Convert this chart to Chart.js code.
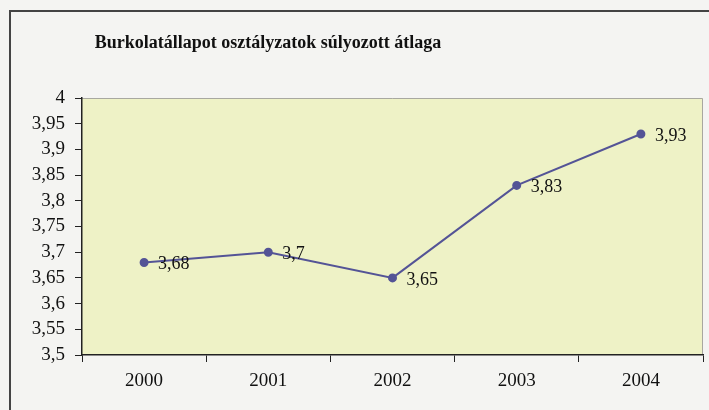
<!DOCTYPE html>
<html>
<head>
<meta charset="utf-8">
<script src="https://cdn.jsdelivr.net/npm/chart.js@4/dist/chart.umd.min.js"></script>
<style>
    body { margin: 0; background: #f4f4f2; overflow: hidden; }
    .frame { position: absolute; left: 9px; top: 10px; width: 710px; height: 410px; border-left: 2px solid #444; border-top: 2px solid #444; }
    #gradeChart { position: absolute; left: 0; top: 0; }
</style>
</head>
<body>
<div class="frame"></div>
<canvas id="gradeChart" width="709" height="410"></canvas>
<script>
var years = ["2000", "2001", "2002", "2003", "2004"];
var avgGrade = [3.68, 3.7, 3.65, 3.83, 3.93];
var yTicks = [3.5, 3.55, 3.6, 3.65, 3.7, 3.75, 3.8, 3.85, 3.9, 3.95, 4];
var chartTitle = "Burkolatállapot osztályzatok súlyozott átlaga";

function huNum(v) {
    return String(Math.round(v * 100) / 100).replace(".", ",");
}

// plot background, title and point labels
var decor = {
    id: "decor",
    beforeDraw: function(chart) {
        var a = chart.chartArea, ctx = chart.ctx;
        ctx.save();
        ctx.fillStyle = "#eef2c6";
        ctx.fillRect(a.left, a.top, a.right - a.left, a.bottom - a.top);
        ctx.strokeStyle = "#a8a8a0";
        ctx.lineWidth = 1;
        ctx.beginPath();
        ctx.moveTo(a.left, a.top + 0.5);
        ctx.lineTo(a.right - 0.5, a.top + 0.5);
        ctx.lineTo(a.right - 0.5, a.bottom);
        ctx.stroke();
        ctx.fillStyle = "#111";
        ctx.font = "bold 18px 'Liberation Serif', serif";
        ctx.textAlign = "center";
        ctx.textBaseline = "middle";
        ctx.fillText(chartTitle, 268, 43);
        ctx.restore();
    },
    afterDatasetsDraw: function(chart) {
        var ctx = chart.ctx;
        var pts = chart.getDatasetMeta(0).data;
        ctx.save();
        ctx.fillStyle = "#111";
        ctx.font = "18px 'Liberation Serif', serif";
        ctx.textAlign = "left";
        ctx.textBaseline = "middle";
        pts.forEach(function(p, i) {
            ctx.fillText(huNum(avgGrade[i]), p.x + 14, p.y + 2);
        });
        ctx.restore();
    }
};

var ctx = document.getElementById("gradeChart").getContext("2d");
var gradeChart = new Chart(ctx, {
    type: "line",
    data: {
        labels: years,
        datasets: [{
            label: "átlag",
            data: avgGrade,
            borderColor: "#545496",
            backgroundColor: "#545496",
            borderWidth: 2,
            pointRadius: 3.5,
            pointBackgroundColor: "#545496",
            tension: 0
        }]
    },
    options: {
        responsive: false,
        animation: false,
        devicePixelRatio: 1,
        layout: { padding: { top: 98, right: 2, left: 0, bottom: 0 } },
        plugins: {
            legend: { display: false },
            title: { display: false },
            tooltip: { enabled: false }
        },
        scales: {
            x: {
                offset: true,
                grid: { offset: true, drawOnChartArea: false, color: "#222", tickLength: 7 },
                border: { color: "#222", width: 1.5 },
                ticks: { color: "#111", font: { family: "'Liberation Serif', serif", size: 19 }, padding: 8 },
                afterFit: function(s) { s.height = 55; }
            },
            y: {
                min: 3.5,
                max: 4,
                afterBuildTicks: function(s) { s.ticks = yTicks.map(function(v) { return { value: v }; }); },
                grid: { drawOnChartArea: false, color: "#222", tickLength: 7 },
                border: { color: "#222", width: 1.5 },
                ticks: {
                    autoSkip: false,
                    color: "#111",
                    font: { family: "'Liberation Serif', serif", size: 19 },
                    padding: 10,
                    callback: function(v) { return huNum(v); }
                },
                afterFit: function(s) { s.width = 82; }
            }
        }
    },
    plugins: [decor]
});
</script>
</body>
</html>
